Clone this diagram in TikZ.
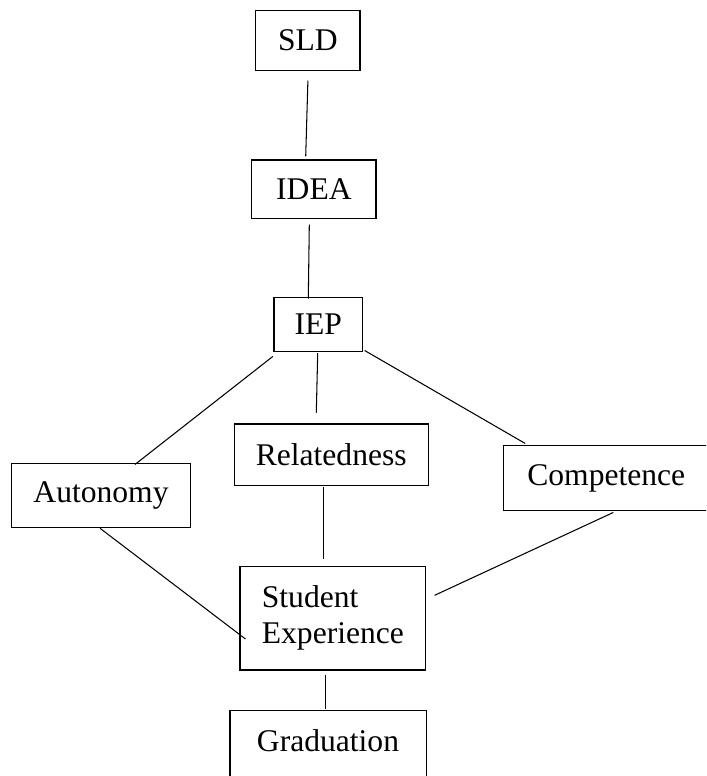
\documentclass[tikz,border=0pt]{standalone}
\usepackage{fontspec}
\setmainfont{Liberation Serif}
\usetikzlibrary{positioning}

\begin{document}
\begin{tikzpicture}[
    x=0.38pt, y=-0.38pt, % one unit = one pixel of the layout
    font=\fontsize{12}{13.9}\selectfont,
    % --- STYLES ---
    box_node/.style={
        draw, black, line width=0.4pt,
        rectangle,
        inner sep=0pt
    },
    conn_style/.style={black, line width=0.4pt}
]

% --- PAGE AREA ---
\clip (0,0) rectangle (706,776);

% --- BOXES (placed at the centres of the layout) ---
\node[box_node, minimum width=39.6pt, minimum height=22.8pt] (sld_box) at (307.9,40.7) {SLD};
\node[box_node, minimum width=47.2pt, minimum height=22.2pt] (idea_box) at (313.9,189.2) {IDEA};
\node[box_node, minimum width=33.6pt, minimum height=20.5pt] (iep_box) at (318.2,324.3) {IEP};

% the three needs, one row
\node[box_node, minimum width=67.9pt, minimum height=24.5pt] (autonomy_box) at (101,495.5) {Autonomy};
\node[box_node, minimum width=73.8pt, minimum height=23.2pt] (related_box) at (331.2,454.5) {Relatedness};
\node[box_node, minimum width=78.3pt, minimum height=24.8pt] (compet_box) at (606.3,478.3) {Competence};

% outcome
\node[box_node, minimum width=70.6pt, minimum height=39.5pt, align=left] (student_box) at (332.9,618) {Student\\Experience};
% Graduation runs off the bottom of the page
\node[box_node, anchor=base, minimum width=74.5pt, text height=15.5pt, text depth=15pt] (grad_box) at (328,751.7) {Graduation};

% --- CONNECTORS ---
\draw[conn_style] ([shift={(0,9.3)}]sld_box.south) -- ([shift={(-8.2,-3)}]idea_box.north);
\draw[conn_style] ([shift={(-4.6,5.7)}]idea_box.south) -- ([shift={(-9.9,1.7)}]iep_box.north);
\draw[conn_style] ([shift={(-0.7,4.7)}]iep_box.south west) -- ([shift={(34,1.7)}]autonomy_box.north);
\draw[conn_style] ([shift={(-0.5,1.4)}]iep_box.south) -- ([shift={(-14.9,-10.7)}]related_box.north);
\draw[conn_style] ([shift={(1.7,-1.3)}]iep_box.south east) -- ([shift={(22.4,-1.7)}]compet_box.north west);
\draw[conn_style] ([shift={(-7.9,1)}]related_box.south) -- ([shift={(-9.6,-6.7)}]student_box.north);
\draw[conn_style] ([shift={(-1,0)}]autonomy_box.south) -- ([shift={(6,21)}]student_box.west);
\draw[conn_style] ([shift={(7,1)}]compet_box.south) -- ([shift={(8.3,-22.7)}]student_box.east);
\draw[conn_style] ([shift={(-7.2,4)}]student_box.south) -- ([shift={(-2.3,-1.7)}]grad_box.north);

\end{tikzpicture}
\end{document}
